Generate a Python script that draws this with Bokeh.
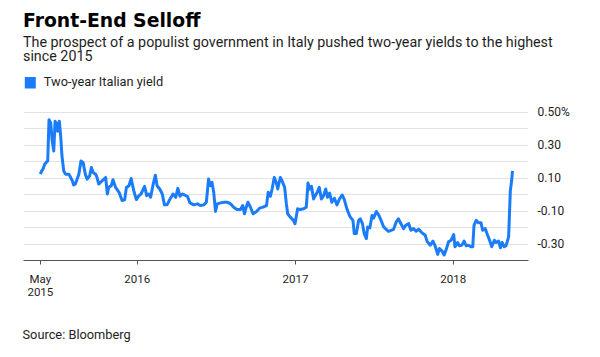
import pandas as pd
from bokeh.plotting import figure
from bokeh.layouts import column, row
from bokeh.models import FixedTicker, Range1d
from bokeh.core.properties import value
from bokeh.embed import file_html
from bokeh.resources import INLINE

# ---- data ----
dates = [
    "2015-05-22", "2015-05-25", "2015-05-28", "2015-06-01", "2015-06-04", "2015-06-08",
    "2015-06-11", "2015-06-15", "2015-06-18", "2015-06-22", "2015-06-25", "2015-06-28",
    "2015-07-01", "2015-07-05", "2015-07-08", "2015-07-11", "2015-07-15", "2015-07-19",
    "2015-07-27", "2015-08-04", "2015-08-07", "2015-08-11", "2015-08-19", "2015-08-24",
    "2015-08-29", "2015-09-03", "2015-09-07", "2015-09-13", "2015-09-17", "2015-09-21",
    "2015-09-27", "2015-09-30", "2015-10-04", "2015-10-12", "2015-10-20", "2015-10-24",
    "2015-10-27", "2015-11-02", "2015-11-06", "2015-11-12", "2015-11-20", "2015-11-27",
    "2015-12-03", "2015-12-07", "2015-12-13", "2015-12-18", "2015-12-24", "2015-12-30",
    "2016-01-05", "2016-01-10", "2016-01-18", "2016-01-23", "2016-01-28", "2016-02-01",
    "2016-02-07", "2016-02-12", "2016-02-16", "2016-02-22", "2016-02-28", "2016-03-04",
    "2016-03-10", "2016-03-17", "2016-03-24", "2016-03-30", "2016-04-04", "2016-04-09",
    "2016-04-14", "2016-04-19", "2016-04-26", "2016-05-02", "2016-05-11", "2016-05-19",
    "2016-05-26", "2016-06-03", "2016-06-09", "2016-06-14", "2016-06-18", "2016-06-22",
    "2016-06-26", "2016-06-30", "2016-07-04", "2016-07-12", "2016-07-20", "2016-07-27",
    "2016-08-04", "2016-08-11", "2016-08-19", "2016-08-27", "2016-09-01", "2016-09-05",
    "2016-09-08", "2016-09-13", "2016-09-19", "2016-09-25", "2016-10-03", "2016-10-10",
    "2016-10-18", "2016-10-26", "2016-10-30", "2016-11-04", "2016-11-08", "2016-11-13",
    "2016-11-18", "2016-11-21", "2016-11-27", "2016-12-01", "2016-12-07", "2016-12-11",
    "2016-12-14", "2016-12-20", "2016-12-27", "2016-12-31", "2017-01-06", "2017-01-12",
    "2017-01-20", "2017-01-26", "2017-01-30", "2017-02-03", "2017-02-07", "2017-02-12",
    "2017-02-16", "2017-02-21", "2017-02-25", "2017-03-02", "2017-03-07", "2017-03-12",
    "2017-03-16", "2017-03-21", "2017-03-26", "2017-04-01", "2017-04-07", "2017-04-13",
    "2017-04-19", "2017-04-24", "2017-04-30", "2017-05-06", "2017-05-08", "2017-05-14",
    "2017-05-17", "2017-05-22", "2017-05-27", "2017-05-31", "2017-06-05", "2017-06-09",
    "2017-06-14", "2017-06-17", "2017-06-22", "2017-06-27", "2017-07-01", "2017-07-07",
    "2017-07-13", "2017-07-18", "2017-07-24", "2017-07-30", "2017-08-04", "2017-08-10",
    "2017-08-16", "2017-08-22", "2017-08-27", "2017-09-02", "2017-09-08", "2017-09-13",
    "2017-09-20", "2017-09-25", "2017-10-01", "2017-10-07", "2017-10-13", "2017-10-20",
    "2017-10-28", "2017-11-02", "2017-11-09", "2017-11-15", "2017-11-20", "2017-11-26",
    "2017-11-30", "2017-12-06", "2017-12-11", "2017-12-16", "2017-12-21", "2017-12-27",
    "2018-01-02", "2018-01-05", "2018-01-11", "2018-01-15", "2018-01-21", "2018-01-26",
    "2018-01-31", "2018-02-05", "2018-02-11", "2018-02-15", "2018-02-18", "2018-02-23",
    "2018-02-28", "2018-03-06", "2018-03-10", "2018-03-16", "2018-03-20", "2018-03-26",
    "2018-03-31", "2018-04-06", "2018-04-10", "2018-04-16", "2018-04-20", "2018-04-24",
    "2018-04-29", "2018-05-03", "2018-05-09", "2018-05-13", "2018-05-16", "2018-05-18",
]
yields = [
    0.126, 0.146, 0.156, 0.186, 0.196, 0.206,
    0.456, 0.436, 0.336, 0.266, 0.446, 0.436,
    0.386, 0.446, 0.356, 0.236, 0.146, 0.126,
    0.126, 0.086, 0.060, 0.066, 0.126, 0.206,
    0.196, 0.126, 0.096, 0.116, 0.166, 0.136,
    0.126, 0.106, 0.066, 0.086, 0.106, 0.006,
    0.046, 0.056, 0.092, 0.046, 0.016, -0.034,
    -0.030, 0.046, 0.056, 0.100, 0.026, -0.028,
    -0.004, 0.006, 0.052, -0.004, 0.006, -0.014,
    0.066, 0.120, 0.056, 0.036, 0.006, -0.060,
    -0.060, -0.024, 0.006, -0.014, 0.040, -0.008,
    0.006, 0.000, -0.008, -0.048, -0.060, -0.054,
    -0.064, -0.060, -0.044, 0.096, 0.056, 0.076,
    0.016, -0.100, -0.054, -0.048, -0.044, -0.044,
    -0.054, -0.074, -0.088, -0.088, -0.064, -0.114,
    -0.084, -0.044, -0.074, -0.114, -0.100, -0.080,
    -0.074, -0.064, 0.016, -0.008, 0.036, 0.106,
    0.072, 0.036, 0.106, 0.086, 0.046, -0.054,
    -0.114, -0.134, -0.154, -0.174, -0.084, -0.088,
    -0.084, -0.074, 0.072, 0.036, 0.052, -0.024,
    -0.004, 0.020, 0.046, -0.024, -0.004, 0.036,
    -0.014, 0.012, -0.044, -0.020, -0.060, -0.024,
    0.000, -0.028, -0.084, -0.124, -0.134, -0.154,
    -0.234, -0.234, -0.154, -0.144, -0.174, -0.234,
    -0.264, -0.194, -0.200, -0.124, -0.140, -0.100,
    -0.124, -0.154, -0.194, -0.208, -0.220, -0.214,
    -0.208, -0.164, -0.144, -0.174, -0.204, -0.184,
    -0.174, -0.214, -0.204, -0.220, -0.208, -0.228,
    -0.244, -0.284, -0.304, -0.280, -0.308, -0.360,
    -0.324, -0.340, -0.364, -0.328, -0.284, -0.274,
    -0.240, -0.314, -0.288, -0.308, -0.304, -0.280,
    -0.308, -0.304, -0.314, -0.314, -0.184, -0.154,
    -0.168, -0.168, -0.214, -0.204, -0.234, -0.274,
    -0.314, -0.274, -0.288, -0.280, -0.320, -0.288,
    -0.314, -0.308, -0.254, 0.026, 0.086, 0.146,
]

x_tick_dates = ["2015-05-22", "2016-01-01", "2017-01-01", "2018-01-01"]
x_tick_labels = ["May\n2015", "2016", "2017", "2018"]
y_ticks = [-0.3, -0.1, 0.1, 0.3, 0.5]
y_tick_labels = ["-0.30", "-0.10", "0.10", "0.30", "0.50%"]
grid_ticks = [-0.3, -0.2, -0.1, 0.0, 0.1, 0.2, 0.3, 0.4, 0.5]

title_text = "Front-End Selloff"
subtitle_lines = [
    "The prospect of a populist government in Italy pushed two-year yields to the highest",
    "since 2015",
]
legend_text = "Two-year Italian yield"
source_text = "Source: Bloomberg"

BLUE = "#1a7cf8"
FONT = "Roboto"
TXT = "#1e1e1e"
W = 600


def blank(h):
    f = figure(width=W, height=h, x_range=Range1d(0, W), y_range=Range1d(h, 0),
               x_axis_type=None, y_axis_type=None, output_backend="svg",
               toolbar_location=None, min_border=0)
    f.outline_line_color = None
    f.grid.visible = False
    return f


# ---- header: title, subtitle, legend ----
hdr = blank(100)
hdr.text(x=[22.5], y=[20], text=[title_text], text_font=value("DejaVu Sans"),
         text_font_style="bold", text_font_size="18.8px", text_color="#000000",
         text_baseline="alphabetic")
hdr.text(x=[22.5, 22.5], y=[41.5, 55.5], text=subtitle_lines, text_font=value(FONT),
         text_font_size="14.3px", text_color=TXT, text_baseline="alphabetic")
hdr.quad(left=[24.3], right=[35.3], top=[76.5], bottom=[88], fill_color=BLUE, line_color=None)
hdr.text(x=[43.3], y=[81], text=[legend_text], text_font=value(FONT),
         text_font_size="12.8px", text_color=TXT, text_baseline="alphabetic")

# ---- main chart ----
x = pd.to_datetime(dates)
p = figure(
    width=W, height=212,
    x_axis_type="datetime", y_axis_location="right",
    output_backend="svg", toolbar_location=None,
    x_range=Range1d(pd.Timestamp("2015-04-13"), pd.Timestamp("2018-06-24")),
    y_range=Range1d(-0.397, 0.548),
    min_border_left=23, min_border_right=72, min_border_top=4, min_border_bottom=52,
)
p.outline_line_color = None
p.line(x, yields, line_color=BLUE, line_width=3, line_join="round")

p.xgrid.visible = False
p.ygrid.ticker = FixedTicker(ticks=grid_ticks)
p.ygrid.grid_line_color = "#e3e3e3"
p.ygrid.grid_line_width = 1

tick_ms = [pd.Timestamp(d).value / 1e6 for d in x_tick_dates]
xa = p.xaxis[0]
xa.ticker = FixedTicker(ticks=tick_ms)
xa.major_label_overrides = {t: lab for t, lab in zip(tick_ms, x_tick_labels)}
xa.axis_line_color = "#555555"
xa.major_tick_line_color = "#555555"
xa.major_tick_out = 4
xa.major_tick_in = 0
xa.minor_tick_line_color = None
xa.major_label_standoff = 7
xa.major_label_text_font = FONT
xa.major_label_text_font_size = "11.5px"
xa.major_label_text_color = TXT
xa.major_label_text_line_height = 0.95

ya = p.yaxis[0]
ya.ticker = FixedTicker(ticks=y_ticks)
ya.major_label_overrides = {t: lab for t, lab in zip(y_ticks, y_tick_labels)}
ya.axis_line_color = None
ya.major_tick_line_color = None
ya.minor_tick_line_color = None
ya.major_tick_out = 0
ya.major_tick_in = 0
ya.major_label_standoff = 9
ya.major_label_text_font = FONT
ya.major_label_text_font_size = "12px"
ya.major_label_text_color = TXT

# ---- footer: source ----
ftr = blank(45)
ftr.text(x=[22], y=[22], text=[source_text], text_font=value(FONT),
         text_font_size="12.8px", text_color=TXT, text_baseline="alphabetic")

layout = column(row(hdr), p, row(ftr), spacing=0)
open("out.html", "w").write(file_html(layout, INLINE))
